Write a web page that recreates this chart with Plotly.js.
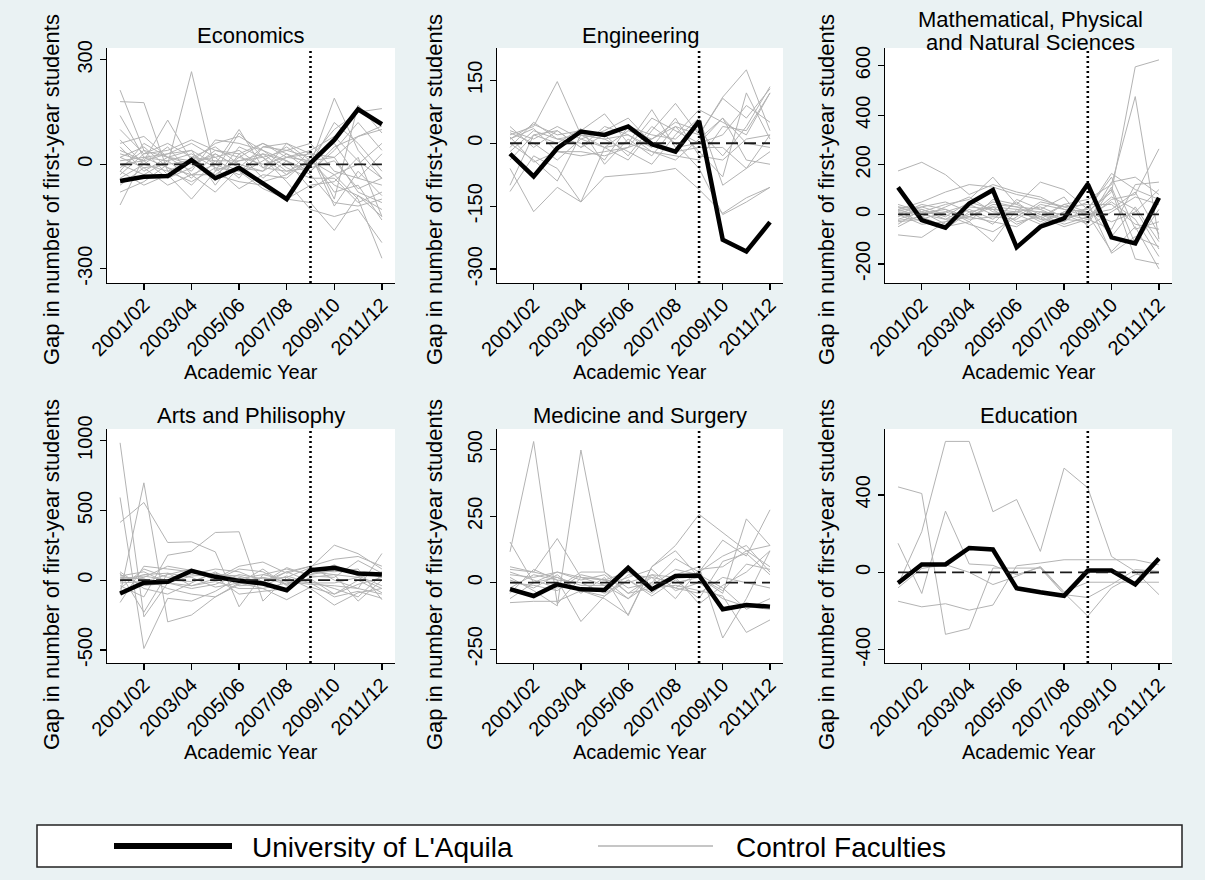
<!DOCTYPE html>
<html><head><meta charset="utf-8">
<script src="https://cdn.plot.ly/plotly-3.0.1.min.js"></script>
<style>html,body{margin:0;padding:0;background:#eaf2f3;}#chart{width:1205px;height:880px;}</style>
</head><body><div id="chart"></div>
<script>
// ---------- data ----------
const years = [2000, 2001, 2002, 2003, 2004, 2005, 2006, 2007, 2008, 2009, 2010, 2011];
const tickYears = [2001, 2003, 2005, 2007, 2009, 2011];
const tickLabels = ["2001/02", "2003/04", "2005/06", "2007/08", "2009/10", "2011/12"];
const earthquakeYear = 2008;
const seriesNames = ["University of L'Aquila", "Control Faculties"];
const yTitle = "Gap in number of first-year students";
const xTitle = "Academic Year";

const panelTitles = ["Economics", "Engineering", "Mathematical, Physical|and Natural Sciences",
                     "Arts and Philisophy", "Medicine and Surgery", "Education"];

const econTicks = [-300, 0, 300];
const engTicks = [-300, -150, 0, 150];
const mathTicks = [-200, 0, 200, 400, 600];
const artsTicks = [-500, 0, 500, 1000];
const medTicks = [-250, 0, 250, 500];
const eduTicks = [-400, 0, 400];

const econAquila = [-48, -36, -34, 12, -40, -10, -55, -100, 3, 70, 158, 115];
const engAquila  = [-25, -79, -12, 28, 20, 40, -2, -20, 53, -230, -258, -188];
const mathAquila = [109, -23, -54, 44, 98, -133, -50, -16, 122, -93, -117, 67];
const artsAquila = [-96, -19, -12, 67, 24, -5, -24, -72, 72, 88, 48, 41];
const medAquila  = [-24, -50, -6, -25, -27, 56, -25, 25, 27, -100, -84, -90];
const eduAquila  = [-55, 41, 41, 126, 118, -82, -103, -121, 9, 9, -62, 72];

const econControls = [
  [213, 40, -30, 20, 10, -20, 30, 10, -20, 50, 80, 100],
  [180, 177, -20, 10, -30, 20, 0, 20, 10, -60, -90, -150],
  [-117, 20, 10, -40, 30, -10, 50, 40, 20, 100, 150, 160],
  [40, 10, 127, 10, 20, 40, -10, 30, 0, 190, 40, -40],
  [20, -10, 0, 266, -20, 10, 30, -20, 10, -30, -100, -270],
  [60, 80, 20, 40, -60, 30, 60, 20, 40, -100, 170, 90],
  [-20, -60, -30, -100, -20, 90, 20, -50, -130, -150, -130, -225],
  [10, 20, 30, 60, 20, -40, 50, 60, 10, 60, -40, -60],
  [-40, 0, -20, -50, -10, -20, -70, -100, -110, -190, -90, -130],
  [100, 30, 60, 20, 50, 0, -20, 60, 30, 20, 80, 110],
  [-10, 40, 20, -20, 70, 60, 40, -10, -40, -40, -110, -80],
  [0, -30, 10, 30, -10, -70, -30, -40, 20, -80, -60, -160],
  [30, 10, -40, -10, 40, 20, 60, 30, -20, 40, 120, 40],
  [-30, 30, 40, 70, 40, 30, -40, 10, -30, -110, -120, -100],
  [50, -20, 20, 10, -40, 50, 20, -30, 40, 80, 10, -40],
  [-60, -10, -60, -30, -30, -50, -60, -100, -60, -50, 20, -150],
  [0, 10, 30, 40, 0, -30, 10, 50, 0, 120, 60, -20],
  [20, 50, -10, -60, 10, 10, 20, 40, 60, -20, -40, 30],
  [70, 0, 50, -30, -80, -10, -50, -30, 10, 20, -80, -110],
  [-80, -50, 0, 10, 60, 80, 40, 10, -70, -30, 0, 60],
  [-20, 60, 20, 0, 30, -10, -20, 20, 30, -120, -20, -90],
  [140, 20, -10, -30, 0, 100, -10, -20, -10, 10, -70, -40]
];
const engControls = [
  [20, 40, 147, 20, -10, 30, 10, 40, 20, 110, 175, 30],
  [-115, -30, -60, -140, -80, -75, -70, -60, -110, -167, -130, -105],
  [-60, -163, -105, -140, -10, 0, -20, -30, -40, 40, 30, 120],
  [10, 45, 20, 30, 70, 0, 80, -10, 0, 60, -40, -50],
  [25, 0, -40, 10, -10, -40, 30, 95, 20, 107, 60, 130],
  [-20, 30, 10, 0, -40, 40, 20, 10, 60, -100, -60, 20],
  [0, -40, -90, 20, 10, -20, -50, 20, 80, 50, 20, 120],
  [30, 10, 40, 10, 30, 60, 0, -20, -10, -10, -60, -20],
  [-100, 20, 0, 35, -50, 10, -30, 40, -20, -80, 120, 10],
  [10, 35, -20, -30, -20, -10, 10, 50, 30, -30, 40, 135],
  [40, -10, 30, -10, 20, -30, 40, 0, -60, -170, -140, -105],
  [-10, 50, 10, 20, 10, 20, -20, -40, 10, 60, 0, -10],
  [15, -45, -20, -20, -30, -10, 60, 30, 0, 20, 90, 50],
  [-40, 20, 30, -10, 40, 20, -10, 60, -30, -40, 10, 20]
];
const mathControls = [
  [175, 210, 160, 80, 120, 90, 70, 20, 10, 90, 595, 623],
  [30, 20, -10, 50, 20, 10, -20, 40, 60, 120, 475, -100],
  [-83, -93, -30, -10, 30, 20, 10, 0, -20, 60, 80, 264],
  [20, 50, 90, 120, 110, 80, 60, 30, 0, -150, -50, -220],
  [-20, 10, 40, 60, 150, 40, 130, 100, 20, 165, 100, 60],
  [10, -30, -60, 10, -40, 60, 20, -20, 10, 100, -180, -200],
  [0, 40, 20, -30, -110, 20, -30, 10, 50, -157, -90, -130],
  [30, 0, -20, 30, 20, -40, 0, -20, -30, 130, 150, 80],
  [-30, -20, 10, -20, -10, -20, 40, 20, -10, 70, 20, -140],
  [40, 10, -40, 0, 50, 30, -10, -50, -20, -60, 120, 130],
  [-10, 30, 0, -40, -70, -10, 50, 30, 40, 40, -40, -60],
  [20, -10, 30, 70, 10, 0, -40, 10, 20, 150, -60, -30],
  [-40, 20, -20, -10, 40, 30, 20, 70, -50, 10, 70, 40],
  [0, -40, -30, 20, -20, 50, -20, -30, 30, -90, 30, -110],
  [10, 5, 20, -10, -30, -50, 10, 0, -40, 110, -120, 20],
  [-50, 0, 10, 40, 0, 10, 30, -10, 0, 20, 90, -80],
  [15, 30, 50, 10, 30, -30, -10, 40, 10, -30, 10, 100],
  [-25, -10, -50, -30, 60, 40, 0, -40, -10, 50, -20, -170]
];
const artsControls = [
  [985, -263, -20, 30, 40, -10, 20, -30, 60, 40, 20, -60],
  [593, -490, -130, -150, -80, 20, -40, 30, -20, -120, -80, -130],
  [414, 557, 270, 275, 203, -191, 40, 80, 40, 70, 60, 20],
  [-100, 698, -299, -250, -120, -20, -60, -140, -50, -100, 0, -90],
  [-40, -120, 179, 208, 342, 347, -150, 20, 90, 251, 190, 80],
  [50, -230, 50, -40, 10, 100, 130, 50, 100, 0, -60, 191],
  [-160, 100, 80, 60, 40, 30, -20, 90, 30, 20, 140, 50],
  [30, 60, -20, -60, -30, 40, 10, 20, -60, -179, -90, -60],
  [-10, 40, 50, 20, -50, -20, 80, -40, 70, 60, 80, -140],
  [60, -60, -100, -20, 60, -40, -30, 60, -10, -60, -120, 40],
  [0, 20, 100, 70, 0, 80, 60, -30, 40, 110, 30, -40],
  [40, -40, -20, -40, -10, -60, -60, -20, 10, -100, -30, 20],
  [-60, 80, 20, 40, 80, 60, -10, 60, 100, 150, 170, 100],
  [20, 10, -60, -100, -120, -30, 20, -10, -30, -40, -60, -100],
  [-20, -10, 40, 80, 20, -100, -80, -60, 20, 40, -150, 0],
  [10, 30, 0, -10, 50, 10, 40, 0, -20, -20, 20, 60]
];
const medControls = [
  [116, 531, -80, 20, 10, 0, 30, -20, 40, 100, 140, 40],
  [20, -30, -87, 499, 40, -40, 20, 0, 20, -40, 240, 140],
  [153, 0, 20, -30, -60, -120, 60, 140, 257, 190, 120, 60],
  [-75, -70, -70, -30, -50, 10, -40, 30, 60, -208, -60, 120],
  [60, 40, 166, 20, -10, -60, 0, 90, 40, 160, 100, 274],
  [30, 20, 40, 10, 30, -40, -20, -10, -30, -50, -187, -140],
  [-40, 50, 10, -146, -50, 30, 20, -60, 50, 60, 120, 140],
  [40, 10, -20, 40, 40, -20, 0, -20, -40, 20, 0, -20],
  [10, -20, 30, -40, 20, -124, 60, 120, 20, -30, 70, 50],
  [-20, 30, 10, 0, -40, 10, -50, 10, -60, 80, 110, 30],
  [0, -10, -30, 30, 10, 40, -10, 50, 30, -20, -100, -60],
  [50, 40, 20, -10, -10, 20, 50, -30, 0, -60, -90, -100],
  [-60, 0, 40, 20, 10, -60, 30, 20, -80, -10, 40, 120]
];
const eduControls = [
  [-63, 210, 676, 676, 313, 376, 108, 538, 436, 82, 5, -115],
  [441, 407, -320, -290, 22, 22, 22, -115, -130, -63, 14, 5],
  [150, -109, 316, 43, 36, -12, 26, -106, -226, -80, -12, -3],
  [-149, -178, -162, -195, -169, 34, 48, 65, 65, 65, 65, 39],
  [-80, 20, 40, 0, -63, -20, 30, -100, -51, -51, -51, -51]
];

// ---------- styling / layout ----------
const W = 1205, H = 880;
const FONT = "Liberation Sans, Arial, Helvetica, sans-serif";
const BG = "#eaf2f3";
const px = x => x / W, py = y => 1 - y / H;

const aquila = [econAquila, engAquila, mathAquila, artsAquila, medAquila, eduAquila];
const controls = [econControls, engControls, mathControls, artsControls, medControls, eduControls];
const yTicks = [econTicks, engTicks, mathTicks, artsTicks, medTicks, eduTicks];
const yRanges = [[-341, 334], [-333, 227], [-277, 671], [-594, 1084], [-302, 578], [-468, 740]];
const boxes = [ // plot areas in pixels: [left, right, top, bottom]
  [107, 395, 48, 283], [497, 783, 48, 283], [885, 1172, 48, 283],
  [107, 395, 429, 663], [497, 783, 429, 663], [885, 1172, 429, 663]
];
const yTitleX = [51, 434, 826];
const yTitleY = [190, 575];
const xTitleY = [372, 752];
const titleY = [36, 416];

const traces = [];
const layout = {
  width: W, height: H, margin: {l: 0, r: 0, t: 0, b: 0},
  paper_bgcolor: BG, plot_bgcolor: "#ffffff",
  font: {family: FONT, color: "#000", size: 20},
  showlegend: false, shapes: [], annotations: []
};

function ann(text, x, y, size, angle) {
  layout.annotations.push({text: text, x: px(x), y: py(y), xref: "paper", yref: "paper",
    showarrow: false, xanchor: "center", yanchor: "middle", textangle: angle || 0,
    font: {family: FONT, size: size, color: "#000"}});
}

for (let k = 0; k < 6; k++) {
  const sfx = k === 0 ? "" : String(k + 1);
  const xa = "x" + sfx, ya = "y" + sfx;
  const b = boxes[k];
  controls[k].forEach(c => traces.push({
    x: years, y: c, xaxis: xa, yaxis: ya, type: "scatter", mode: "lines",
    name: seriesNames[1], line: {color: "#b3b3b3", width: 1}, hoverinfo: "skip"
  }));
  traces.push({
    x: years, y: aquila[k], xaxis: xa, yaxis: ya, type: "scatter", mode: "lines",
    name: seriesNames[0], line: {color: "#000", width: 4.5, shape: "linear"}, hoverinfo: "x+y"
  });
  layout["xaxis" + sfx] = {
    domain: [px(b[0]), px(b[1])], anchor: ya, range: [1999.45, 2011.55],
    tickmode: "array", tickvals: tickYears, ticktext: tickLabels, tickangle: -45,
    ticks: "outside", ticklen: 6, tickwidth: 1.3, tickcolor: "#000", ticklabelstandoff: -5,
    showline: true, linecolor: "#000", linewidth: 1.3, showgrid: false, zeroline: false,
    tickfont: {family: FONT, size: 20, color: "#000"}, fixedrange: true
  };
  layout["yaxis" + sfx] = {
    domain: [py(b[3]), py(b[2])], anchor: xa, range: yRanges[k],
    tickmode: "array", tickvals: yTicks[k], ticktext: yTicks[k].map(v => String(v)),
    tickangle: -90, ticks: "outside", ticklen: 6, tickwidth: 1.3, tickcolor: "#000",
    showline: true, linecolor: "#000", linewidth: 1.3, showgrid: false, zeroline: false,
    tickfont: {family: FONT, size: 20, color: "#000"}, fixedrange: true
  };
  // zero reference (dashed) and event line (dotted)
  layout.shapes.push({type: "line", xref: xa, yref: ya, x0: years[0], x1: years[years.length - 1],
    y0: 0, y1: 0, line: {color: "#1a1a1a", width: 1.8, dash: "12px,6px"}, layer: "above"});
  layout.shapes.push({type: "line", xref: xa, yref: ya + " domain", x0: earthquakeYear, x1: earthquakeYear,
    y0: 0, y1: 1, line: {color: "#000", width: 2.6, dash: "2px,3px"}, layer: "above"});

  const cx = (b[0] + b[1]) / 2;
  const row = k < 3 ? 0 : 1, col = k % 3;
  const t = panelTitles[k].split("|");
  if (t.length === 1) ann(t[0], cx, titleY[row], 22);
  else { ann(t[0], cx + 2, 19, 22); ann(t[1], cx + 2, 42, 22); }
  ann(xTitle, cx, xTitleY[row], 20);
  ann(yTitle, yTitleX[col], yTitleY[row], 22, -90);
}

// legend box (drawn manually to match the wide Stata legend)
layout.shapes.push({type: "rect", xref: "paper", yref: "paper", x0: px(37), x1: px(1182),
  y0: py(867), y1: py(825), fillcolor: "#ffffff", line: {color: "#222", width: 1.5}, layer: "below"});
layout.shapes.push({type: "line", xref: "paper", yref: "paper", x0: px(114), x1: px(232),
  y0: py(846), y1: py(846), line: {color: "#000", width: 6}});
layout.shapes.push({type: "line", xref: "paper", yref: "paper", x0: px(598), x1: px(713),
  y0: py(846), y1: py(846), line: {color: "#b3b3b3", width: 1.5}});
layout.annotations.push({text: seriesNames[0], x: px(250), y: py(847), xref: "paper", yref: "paper",
  showarrow: false, xanchor: "left", yanchor: "middle", font: {family: FONT, size: 28, color: "#000"}});
layout.annotations.push({text: seriesNames[1], x: px(734), y: py(847), xref: "paper", yref: "paper",
  showarrow: false, xanchor: "left", yanchor: "middle", font: {family: FONT, size: 28, color: "#000"}});

Plotly.newPlot("chart", traces, layout, {staticPlot: true, displayModeBar: false});
</script></body></html>
